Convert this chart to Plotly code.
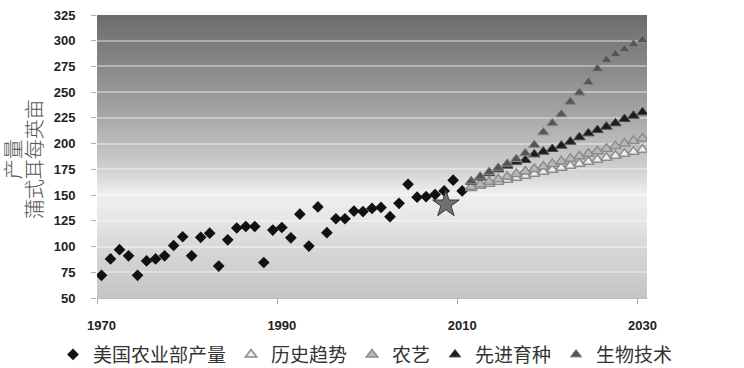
import base64
import struct
import zlib

import plotly.graph_objects as go

# ---------------- data ----------------
usda_years = list(range(1970, 2011))
usda_yield = [72, 88, 97, 91, 72, 86, 88, 91, 101, 109.5,
              91, 109, 113, 81, 106.5, 118, 119.5, 119.5, 84.5, 116,
              118.5, 108.5, 131.5, 100.5, 138.5, 113.5, 127, 127, 134.5, 134,
              137, 138, 129, 142, 160.5, 148, 148.5, 150.5, 154, 164.5,
              154]

star_year = [2008.2]
star_value = [141]

proj_years = list(range(2011, 2031))
hist_trend = [157.0, 159.0, 160.9, 162.9, 164.8, 166.8, 168.7, 170.7, 172.6, 174.6,
              176.5, 178.5, 180.4, 182.4, 184.3, 186.3, 188.2, 190.2, 192.1, 194.0]
agronomy = [158.0, 160.5, 163.0, 165.4, 167.9, 170.4, 172.9, 175.3, 177.8, 180.3,
            182.8, 185.2, 187.7, 190.2, 192.7, 195.1, 197.6, 200.1, 202.6, 205.0]
breeding = [163.0, 167.0, 171.2, 175.0, 178.6, 182.4, 184.1, 189.6, 192.2, 194.8,
            198.0, 201.9, 206.2, 210.0, 213.2, 216.5, 219.8, 223.9, 227.1, 230.4]
biotech = [163.5, 168.0, 172.5, 176.5, 180.5, 185.0, 190.6, 198.7, 211.0, 219.8,
           228.5, 240.7, 249.5, 259.6, 272.8, 281.3, 286.8, 291.7, 296.5, 300.7]

names = ["美国农业部产量", "历史趋势", "农艺", "先进育种", "生物技术"]
y_ticks = [50, 75, 100, 125, 150, 175, 200, 225, 250, 275, 300, 325]
x_ticks = [1970, 1990, 2010, 2030]
y_title_lines = ["产量", "蒲式耳每英亩"]

Y_MIN, Y_MAX = 50, 325
X_MIN, X_MAX = 1969.5, 2030.5

# ---------------- gradient background image ----------------
stops = [(325, 108), (275, 136), (225, 168), (175, 208), (152, 238), (140, 236),
         (100, 216), (50, 196)]


def grey_at(v):
    for (v1, g1), (v2, g2) in zip(stops[:-1], stops[1:]):
        if v2 <= v <= v1:
            t = (v1 - v) / (v1 - v2)
            return g1 + (g2 - g1) * t
    return stops[-1][1]


def gradient_png(n_rows=283, width=2):
    rows = []
    for i in range(n_rows):
        v = Y_MAX - (i + 0.5) / n_rows * (Y_MAX - Y_MIN)
        g = int(round(grey_at(v)))
        rows.append(b"\x00" + bytes([g]) * width)
    raw = b"".join(rows)

    def chunk(tag, data):
        c = struct.pack(">I", len(data)) + tag + data
        return c + struct.pack(">I", zlib.crc32(tag + data) & 0xffffffff)

    ihdr = struct.pack(">IIBBBBB", width, n_rows, 8, 0, 0, 0, 0)
    png = (b"\x89PNG\r\n\x1a\n" + chunk(b"IHDR", ihdr)
           + chunk(b"IDAT", zlib.compress(raw)) + chunk(b"IEND", b""))
    return "data:image/png;base64," + base64.b64encode(png).decode()


# ---------------- figure ----------------
fig = go.Figure()

fig.add_trace(go.Scatter(x=usda_years, y=usda_yield, mode="markers", name=names[0],
                         marker=dict(symbol="diamond", size=9, color="#111111")))
fig.add_trace(go.Scatter(x=star_year, y=star_value, mode="markers", showlegend=False,
                         marker=dict(symbol="star", size=20, color="#707070",
                                     line=dict(color="#3a3a3a", width=1))))
fig.add_trace(go.Scatter(x=proj_years, y=hist_trend, mode="markers", name=names[1],
                         marker=dict(symbol="triangle-up", size=10, color="#eeeeee",
                                     line=dict(color="#8c8c8c", width=1.5))))
fig.add_trace(go.Scatter(x=proj_years, y=agronomy, mode="markers", name=names[2],
                         marker=dict(symbol="triangle-up", size=10, color="#b8b8b8",
                                     line=dict(color="#8c8c8c", width=1.5))))
fig.add_trace(go.Scatter(x=proj_years, y=breeding, mode="markers", name=names[3],
                         marker=dict(symbol="triangle-up", size=10, color="#1c1c1c",
                                     line=dict(color="#4a4a4a", width=1))))
fig.add_trace(go.Scatter(x=proj_years, y=biotech, mode="markers", name=names[4],
                         marker=dict(symbol="triangle-up", size=10, color="#555555",
                                     line=dict(color="#8a8a8a", width=1))))

title_font = dict(family="Noto Sans CJK SC", size=20, color="#555555", weight=300)

fig.update_layout(
    width=744, height=368,
    margin=dict(l=97, r=97, t=15, b=70, autoexpand=False),
    paper_bgcolor="white", plot_bgcolor="rgba(0,0,0,0)",
    images=[dict(source=gradient_png(), xref="x", yref="y",
                 x=X_MIN, y=Y_MAX, sizex=X_MAX - X_MIN, sizey=Y_MAX - Y_MIN,
                 xanchor="left", yanchor="top", sizing="stretch", layer="below")],
    showlegend=True,
    legend=dict(orientation="h", xref="paper", yref="paper",
                x=-0.08, xanchor="left", y=-0.2, yanchor="middle",
                font=dict(family="Noto Sans CJK SC", size=19, color="#333333"),
                itemwidth=30, traceorder="normal", bgcolor="rgba(0,0,0,0)"),
    annotations=[
        dict(text=y_title_lines[0], xref="paper", yref="paper",
             x=-0.1545, y=0.49, xanchor="center", yanchor="middle",
             textangle=-90, showarrow=False, font=title_font),
        dict(text=y_title_lines[1], xref="paper", yref="paper",
             x=-0.1164, y=0.49, xanchor="center", yanchor="middle",
             textangle=-90, showarrow=False, font=title_font),
    ],
)

fig.update_xaxes(range=[X_MIN, X_MAX], tickvals=x_ticks, automargin=False,
                 ticks="outside", ticklen=5, tickcolor="rgba(0,0,0,0)",
                 ticklabelstandoff=10,
                 minor=dict(ticks="outside", tick0=1969.5, dtick=20, ticklen=5,
                            tickcolor="#aaaaaa", showgrid=False),
                 showgrid=False, zeroline=False,
                 showline=True, linecolor="#bdbdbd", linewidth=1,
                 tickfont=dict(family="Liberation Sans", size=13, color="#222222",
                               weight="bold"))
fig.update_yaxes(range=[Y_MIN, Y_MAX], tickvals=y_ticks, automargin=False,
                 ticks="outside", ticklen=5, tickcolor="#b0b0b0",
                 ticklabelstandoff=13,
                 showgrid=True, gridcolor="rgba(255,255,255,0.38)", gridwidth=1.5,
                 zeroline=False, showline=False,
                 tickfont=dict(family="Liberation Sans", size=13, color="#222222",
                               weight="bold"))

fig.write_html("out.html", config={"displayModeBar": False},
               post_script="document.body.style.margin='0px';")
